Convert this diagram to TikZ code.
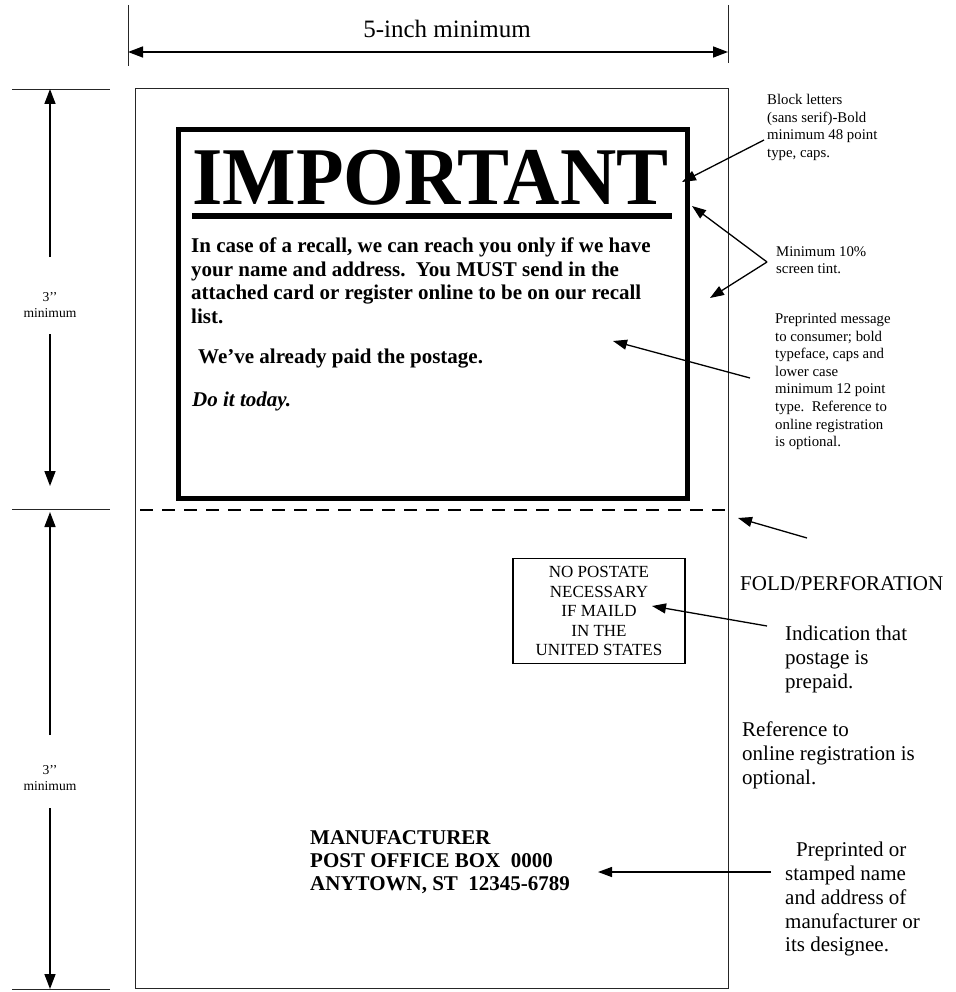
\documentclass[tikz,border=0pt]{standalone}
\usepackage{fontspec}
\setmainfont{Liberation Serif}
\usetikzlibrary{arrows.meta}
\begin{document}
\begin{tikzpicture}[x=1pt,y=-1pt,
  ann/.style={-{Triangle[length=14pt,width=10pt]}, line width=1.3pt},
  dimarr/.style={-{Triangle[length=15pt,width=11pt]}, line width=1.5pt},
  ext/.style={line width=0.9pt, black!85},
  lbl/.style={inner sep=0pt, align=left, anchor=north west},
  small/.style={lbl, font=\fontsize{14.8}{17.6}\selectfont},
  big/.style={lbl, font=\fontsize{21}{23.8}\selectfont},
  dimtxt/.style={inner sep=0pt, align=center, font=\fontsize{13.6}{16.5}\selectfont}]
\useasboundingbox (0,0) rectangle (955,992);
% ---------- top dimension ----------
\draw[ext] (128,5) -- (128,66);
\draw[ext] (728,5) -- (728,63);
\coordinate (wL) at (128,52);
\coordinate (wR) at (728,52);
\draw[{Triangle[length=15pt,width=11pt]}-{Triangle[length=15pt,width=11pt]}, line width=1.5pt] (wL) -- (wR);
\node[inner sep=0pt, font=\fontsize{25}{28}\selectfont] (wtxt) at (447,29) {5-inch minimum};
% ---------- card ----------
\draw[line width=1pt, black!85] (135,89) rectangle (728,988);
% ---------- left dimensions ----------
\draw[ext] (12,89) -- (110,89);
\draw[ext] (12,509) -- (110,509);
\draw[ext] (12,989) -- (110,989);
\node[dimtxt] (h1) at (50,305) {3’’\\minimum};
\node[dimtxt] (h2) at (50,778) {3’’\\minimum};
\coordinate (h1t) at (50,89);
\coordinate (h1b) at (50,486);
\coordinate (h1u) at (50,257);
\coordinate (h1d) at (50,334);
\coordinate (h2t) at (50,512);
\coordinate (h2b) at (50,989);
\coordinate (h2u) at (50,735);
\coordinate (h2d) at (50,808);
\draw[dimarr] (h1u) -- (h1t);
\draw[dimarr] (h1d) -- (h1b);
\draw[dimarr] (h2u) -- (h2t);
\draw[dimarr] (h2d) -- (h2b);
% ---------- IMPORTANT box ----------
\draw[line width=5pt] (178,130) rectangle (687,498);
\node[inner sep=0pt, anchor=base west] (imp) at (192,205)
  {\scalebox{0.95}[1]{\fontsize{82}{82}\selectfont\bfseries IMPORTANT}};
\draw[line width=6pt] (192,216) -- (672,216);
\node[big, font=\fontsize{21}{23.4}\selectfont\bfseries] (msg) at (191,238)
  {In case of a recall, we can reach you only if we have\\
   your name and address.\ \ You MUST send in the\\
   attached card or register online to be on our recall\\
   list.};
\node[big, font=\fontsize{21}{23.4}\selectfont\bfseries] (paid) at (198,349) {We’ve already paid the postage.};
\node[big, font=\fontsize{21}{23.4}\selectfont\bfseries\itshape] (today) at (192,392) {Do it today.};
% ---------- fold line ----------
\draw[line width=2.5pt, dash pattern=on 13pt off 9pt] (140,510) -- (726,510);
% ---------- postage box ----------
\node[draw, line width=1.3pt, minimum width=172pt, minimum height=105pt, inner sep=0pt,
      align=center, font=\fontsize{17}{19.5}\selectfont] (post) at (599,611)
  {NO POSTATE\\NECESSARY\\IF MAILD\\IN THE\\UNITED STATES};
% ---------- manufacturer ----------
\node[big, font=\fontsize{21}{23.2}\selectfont\bfseries] (mfr) at (310,830)
  {MANUFACTURER\\POST OFFICE BOX\ \ 0000\\ANYTOWN, ST\ \ 12345-6789};
% ---------- right annotations ----------
\node[small] (blk) at (767,94)
  {Block letters\\(sans serif)-Bold\\minimum 48 point\\type, caps.};
\node[small] (tint) at (776,246) {Minimum 10\%\\screen tint.};
\node[small] (pre) at (775,313)
  {Preprinted message\\to consumer; bold\\typeface, caps and\\lower case\\minimum 12 point\\type.\ \ Reference to\\online registration\\is optional.};
\node[big] (fold) at (740,576) {FOLD/PERFORATION};
\node[big] (ind) at (785,626) {Indication that\\postage is\\prepaid.};
\node[big] (ref) at (742,722) {Reference to\\online registration is\\optional.};
\node[big] (pom) at (785,842) {\hspace{11pt}Preprinted or\\stamped name\\and address of\\manufacturer or\\its designee.};
% ---------- annotation arrows ----------
\coordinate (a1s) at (764,140);  \coordinate (a1e) at (682,182);
\coordinate (a2s) at (767,262);  \coordinate (a2e) at (692,206);
\coordinate (a3e) at (710,298);
\coordinate (a4s) at (750,378);  \coordinate (a4e) at (613,341);
\coordinate (a5s) at (807,538);  \coordinate (a5e) at (738,518);
\coordinate (a6s) at (767,626);  \coordinate (a6e) at (652,606);
\coordinate (a7s) at (771,872);  \coordinate (a7e) at (598,872);
\draw[ann] (a1s) -- (a1e);
\draw[ann] (a2s) -- (a2e);
\draw[ann] (a2s) -- (a3e);
\draw[ann] (a4s) -- (a4e);
\draw[ann] (a5s) -- (a5e);
\draw[ann] (a6s) -- (a6e);
\draw[ann] (a7s) -- (a7e);
\end{tikzpicture}
\end{document}
